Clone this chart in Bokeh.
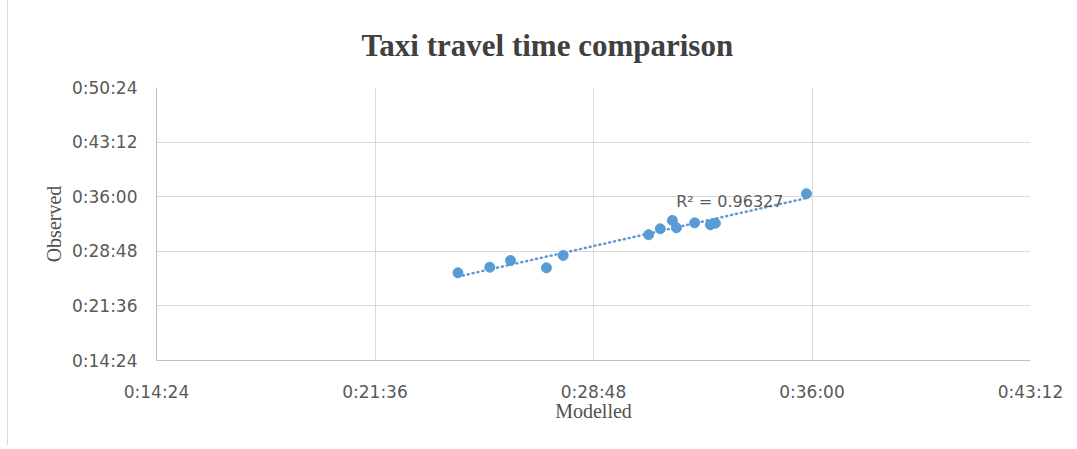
import numpy as np
from bokeh.plotting import figure
from bokeh.models import FixedTicker, Label, ColumnDataSource
from bokeh.embed import file_html
from bokeh.resources import INLINE

# Data (seconds)
modelled = [1460, 1523, 1564, 1635, 1668, 1837, 1860, 1884, 1892, 1928, 1959, 1969, 2149]
observed = [1558, 1602, 1655, 1597, 1695, 1859, 1906, 1972, 1914, 1953, 1938, 1950, 2183]
r2_text = "R\u00b2 = 0.96327"

x_ticks = [864, 1296, 1728, 2160, 2592]
x_tick_labels = ["0:14:24", "0:21:36", "0:28:48", "0:36:00", "0:43:12"]
y_ticks = [864, 1296, 1728, 2160, 2592, 3024]
y_tick_labels = ["0:14:24", "0:21:36", "0:28:48", "0:36:00", "0:43:12", "0:50:24"]

blue = "#5b9bd5"
grey_txt = "#595959"

p = figure(width=1061, height=445, output_backend="svg", toolbar_location=None,
           x_range=(x_ticks[0], x_ticks[-1]), y_range=(y_ticks[0], y_ticks[-1]),
           min_border_left=148, min_border_right=39, min_border_top=87, min_border_bottom=85)
p.styles = {"border-left": "1px solid #d9d9d9", "margin-left": "7px"}
p.outline_line_color = None
p.background_fill_color = "white"

p.title.text = "Taxi travel time comparison"
p.title.text_font = "Liberation Serif"
p.title.text_font_size = "31px"
p.title.text_color = "#404040"
p.title.align = "left"
p.title.offset = 205
p.title.standoff = 50

for ax, ticks, labels in ((p.xaxis[0], x_ticks, x_tick_labels), (p.yaxis[0], y_ticks, y_tick_labels)):
    ax.ticker = FixedTicker(ticks=ticks)
    ax.major_label_overrides = {t: l for t, l in zip(ticks, labels)}
    ax.major_tick_line_color = None
    ax.minor_tick_line_color = None
    ax.axis_line_color = "#bfbfbf"
    ax.major_label_text_font = "DejaVu Sans"
    ax.major_label_text_font_size = "17px"
    ax.major_label_text_color = grey_txt
    ax.axis_label_text_font = "Liberation Serif"
    ax.axis_label_text_font_size = "20px"
    ax.axis_label_text_font_style = "normal"
    ax.axis_label_text_color = "#505050"

p.xaxis.axis_label = "Modelled"
p.yaxis.axis_label = "Observed"
p.xaxis.major_label_standoff = 15
p.yaxis.major_label_standoff = 13
p.xaxis.axis_label_standoff = -5
p.yaxis.axis_label_standoff = 4

p.grid.grid_line_color = "#d9d9d9"
p.grid.grid_line_width = 1

# trendline (least squares)
xm = np.array(modelled, dtype=float)
yo = np.array(observed, dtype=float)
slope, inter = np.polyfit(xm, yo, 1)
tx = [xm.min(), xm.max()]
ty = [slope * v + inter for v in tx]
p.line(tx, ty, line_color=blue, line_width=2.5, line_dash="1 4", line_cap="round")

src = ColumnDataSource(dict(x=modelled, y=observed))
p.scatter("x", "y", source=src, size=10, fill_color=blue, line_color=blue)

p.add_layout(Label(x=modelled[-1], y=observed[-1], text=r2_text, text_align="right",
                   text_baseline="middle", x_offset=-23, y_offset=-8, text_font="DejaVu Sans",
                   text_font_size="16px", text_color=grey_txt))

open("out.html", "w").write(file_html(p, INLINE))
